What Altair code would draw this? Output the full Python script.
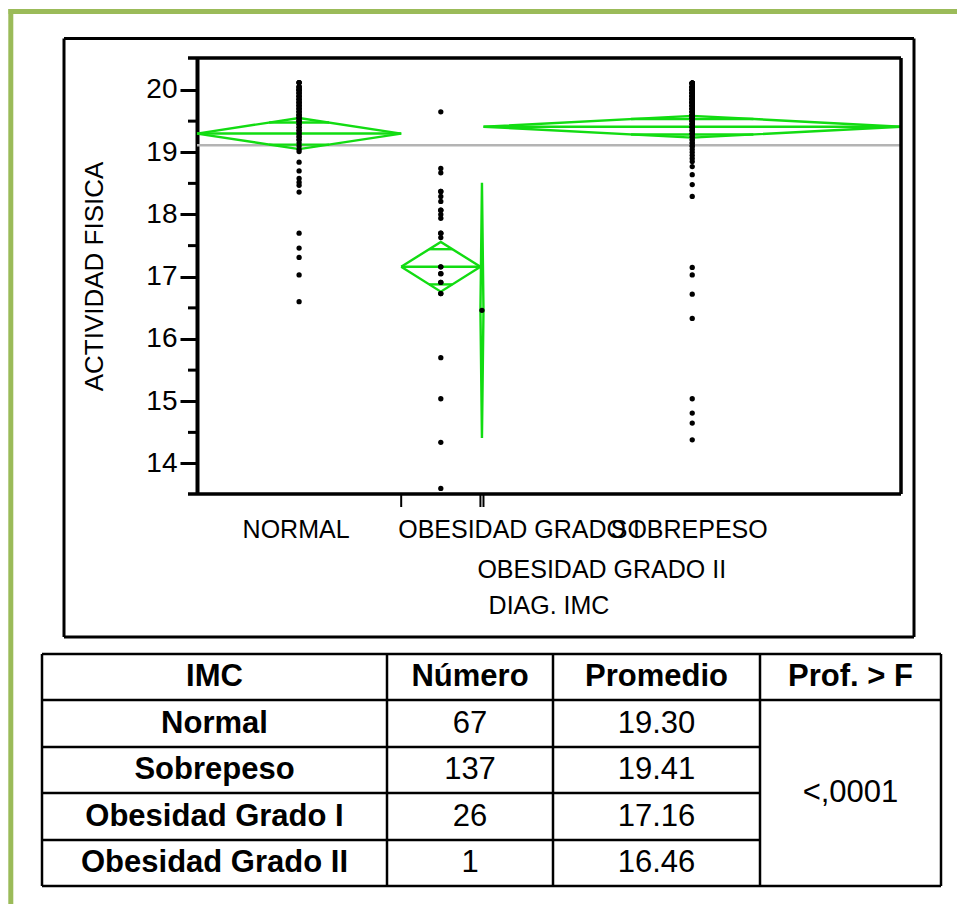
import altair as alt
import numpy as np
import pandas as pd

# ---------------------------------------------------------------- data
# Summary table by IMC group
table_header = ["IMC", "Número", "Promedio", "Prof. > F"]
imc_table = ["Normal", "Sobrepeso", "Obesidad Grado I", "Obesidad Grado II"]
numero = [67, 137, 26, 1]
promedio = [19.30, 19.41, 17.16, 16.46]
prob_f = "<,0001"

# Same groups as named on the x axis, with the 95% half-width of each mean
diag_imc = ["NORMAL", "SOBREPESO", "OBESIDAD GRADO I", "OBESIDAD GRADO II"]
ic95_half = [0.25, 0.175, 0.40, 2.05]
axis_order = ["NORMAL", "OBESIDAD GRADO I", "OBESIDAD GRADO II", "SOBREPESO"]

# y axis
y_major = [14, 15, 16, 17, 18, 19, 20]
y_minor = [14.5, 15.5, 16.5, 17.5, 18.5, 19.5]
y_range = [13.51, 20.514]

# Individual scores (ACTIVIDAD FISICA): a dense upper band given as value/repeats,
# then the scattered lower values
normal_band = [20.12, 20.05, 20.00, 19.95, 19.90, 19.85, 19.80, 19.75, 19.70, 19.65,
               19.60, 19.55, 19.50, 19.45, 19.40, 19.35, 19.30, 19.25, 19.20, 19.15,
               19.10, 19.05, 19.01]
normal_band_reps = [3, 3, 4, 3, 3, 3, 3, 3, 3, 3, 3, 3, 3, 2, 2, 2, 2, 2, 2, 1, 1, 1, 1]
normal_tail = [18.84, 18.70, 18.58, 18.52, 18.47, 18.36, 17.70, 17.46, 17.31, 17.03, 16.60]

obes1_scores = [19.65, 18.74, 18.67, 18.37, 18.37, 18.29, 18.21, 18.07, 18.07, 18.00,
                17.94, 17.70, 17.70, 17.63, 17.16, 17.16, 17.05, 17.05, 16.91, 16.91,
                16.73, 16.73, 15.70, 15.04, 14.34, 13.60]

obes2_scores = [16.46]

sobre_band = [20.11, 20.05, 20.00, 19.95, 19.90, 19.85, 19.80, 19.75, 19.70, 19.65,
              19.60, 19.55, 19.50, 19.45, 19.40, 19.35, 19.30, 19.25, 19.20, 19.15,
              19.10, 19.05, 19.00, 18.95, 18.90, 18.85, 18.77]
sobre_band_reps = [8, 9, 9, 9, 9, 9, 8, 8, 7, 6, 6, 5, 5, 4, 4, 3, 3, 2, 2, 2, 2,
                   1, 1, 1, 1, 1, 1]
sobre_tail = [18.64, 18.48, 18.29, 17.15, 17.03, 16.72, 16.33, 15.04, 14.81, 14.65, 14.38]

# ---------------------------------------------------------------- layout
FONT = "Liberation Sans"
GREEN = "#12DC12"
FRAME_GREEN = "#9BBB59"
W, H = 704, 436          # plot area
OX, OY = 197, 58         # plot area origin on the page


def px(x):
    return x - OX


def py(y):
    return y - OY


# ---------------------------------------------------------------- derived tables
def expand(vals, reps):
    return [v for v, r in zip(vals, reps) for _ in range(r)]


scores = {
    "NORMAL": expand(normal_band, normal_band_reps) + normal_tail,
    "OBESIDAD GRADO I": obes1_scores,
    "OBESIDAD GRADO II": obes2_scores,
    "SOBREPESO": expand(sobre_band, sobre_band_reps) + sobre_tail,
}

grp = (pd.DataFrame({"diag": diag_imc, "n": numero, "avg": promedio, "ic": ic95_half})
       .set_index("diag").loc[axis_order].reset_index())
grp["end"] = grp["n"].cumsum()
grp["start"] = grp["end"] - grp["n"]
grp["mid"] = (grp["start"] + grp["end"]) / 2
total = int(grp["n"].sum())
grand_mean = float((grp["n"] * grp["avg"]).sum() / total)

pts = pd.DataFrame([{"diag": r.diag, "pos": r.mid, "value": v}
                    for r in grp.itertuples() for v in scores[r.diag]])

# means diamonds: outline, mean line and the two overlap marks
K = 1 - 1 / np.sqrt(2)
rows, seg = [], 0
for r in grp.itertuples():
    half = (r.end - r.start) / 2
    d = r.ic / np.sqrt(2)
    shapes = [
        [(r.start, r.avg), (r.mid, r.avg + r.ic), (r.end, r.avg),
         (r.mid, r.avg - r.ic), (r.start, r.avg)],
        [(r.start, r.avg), (r.end, r.avg)],
        [(r.mid - K * half, r.avg + d), (r.mid + K * half, r.avg + d)],
        [(r.mid - K * half, r.avg - d), (r.mid + K * half, r.avg - d)],
    ]
    for s in shapes:
        for i, (x, y) in enumerate(s):
            rows.append({"seg": seg, "ord": i, "pos": float(x), "value": float(y)})
        seg += 1
diamonds = pd.DataFrame(rows)

# ---------------------------------------------------------------- encodings
X = alt.X("pos:Q", scale=alt.Scale(domain=[0, total], nice=False, zero=False), axis=None)
Y = alt.Y(
    "value:Q",
    scale=alt.Scale(domain=y_range, nice=False, zero=False),
    axis=alt.Axis(
        values=y_major, grid=False, domainColor="black", domainWidth=4,
        tickColor="black", tickWidth=3, tickSize=17, labelPadding=3,
        labelFont=FONT, labelFontSize=28, labelColor="black",
        title="ACTIVIDAD FISICA", titleFont=FONT, titleFontSize=26,
        titleFontWeight="normal", titleColor="black", titlePadding=38,
    ),
)

one = pd.DataFrame({"k": [0]})


def hline(y, x1, x2, w, color="black"):
    return alt.Chart(one).mark_rule(color=color, strokeWidth=w).encode(
        x=alt.value(px(x1)), x2=alt.value(px(x2)), y=alt.value(py(y)))


def vline(x, y1, y2, w, color="black"):
    return alt.Chart(one).mark_rule(color=color, strokeWidth=w).encode(
        x=alt.value(px(x)), y=alt.value(py(y1)), y2=alt.value(py(y2)))


def text(s, x, y, size, weight="normal", align="center"):
    return alt.Chart(one).mark_text(
        text=s, font=FONT, fontSize=size, fontWeight=weight, align=align,
        baseline="middle", color="black").encode(x=alt.value(px(x)), y=alt.value(py(y)))


layers = []

# grand mean
gm = pd.DataFrame({"pos": [0], "pos2": [total], "value": [grand_mean]})
layers.append(alt.Chart(gm).mark_rule(color="#B4B4B4", strokeWidth=2.5)
              .encode(x=X, x2="pos2:Q", y=Y))

# diamonds
layers.append(alt.Chart(diamonds).mark_line(color=GREEN, strokeWidth=2.4)
              .encode(x=X, y=Y, detail="seg:N", order="ord:Q"))

# individual scores
layers.append(alt.Chart(pts).mark_circle(size=28, color="black", opacity=1)
              .encode(x=X, y=Y))

# minor y ticks
layers.append(alt.Chart(pd.DataFrame({"value": y_minor}))
              .mark_rule(color="black", strokeWidth=3)
              .encode(y=Y, x=alt.value(-9), x2=alt.value(0)))

# group boundary ticks under the x axis
bounds = pd.DataFrame({"pos": grp["end"].iloc[:-1].astype(float)})
layers.append(alt.Chart(bounds).mark_rule(color="black", strokeWidth=2)
              .encode(x=X, y=alt.value(H), y2=alt.value(H + 13)))

# x axis group labels (long names start at their group's left edge;
# the narrowest group drops to a second row)
LEFT_ALIGNED = {"OBESIDAD GRADO I", "OBESIDAD GRADO II"}
SECOND_ROW = {"OBESIDAD GRADO II"}
lab = grp[["diag", "start", "mid"]].copy()
lab["pos"] = [r.start if r.diag in LEFT_ALIGNED else r.mid for r in lab.itertuples()]
for align, row_y, sel in [
    ("center", 530, lambda d: d not in LEFT_ALIGNED and d not in SECOND_ROW),
    ("left", 530, lambda d: d in LEFT_ALIGNED and d not in SECOND_ROW),
    ("left", 570, lambda d: d in SECOND_ROW),
]:
    sub = lab[lab["diag"].map(sel)]
    layers.append(alt.Chart(sub).mark_text(
        font=FONT, fontSize=25, align=align, baseline="middle", color="black", dx=-3)
        .encode(x=X, y=alt.value(py(row_y)), text="diag:N"))
layers.append(text("DIAG. IMC", OX + W / 2, 606, 25))

# plot frame
layers += [hline(58, 188, 901, 3.5), hline(494, 188, 901, 3.5), vline(901, 58, 494, 3.5)]

# outer frame around the plot
layers += [hline(38.5, 64, 914, 3), hline(637, 64, 914, 3),
           vline(64, 38.5, 637, 3), vline(914, 38.5, 637, 3)]

# page border
layers += [hline(11.5, 8.5, 957, 5, FRAME_GREEN), vline(10.8, 9, 904, 5, FRAME_GREEN)]

# summary table
col_x = [42, 387, 553, 760, 941]
row_y = [654, 700, 747, 793, 840, 886]
for x in col_x:
    layers.append(vline(x, row_y[0], row_y[-1], 2.5))
for i, y in enumerate(row_y):
    right = col_x[-1] if i in (0, 1, len(row_y) - 1) else col_x[3]
    layers.append(hline(y, col_x[0], right, 2.5))

cx = [(a + b) / 2 for a, b in zip(col_x[:-1], col_x[1:])]
cy = [(a + b) / 2 for a, b in zip(row_y[:-1], row_y[1:])]
TS = 31
for j, h in enumerate(table_header):
    layers.append(text(h, cx[j], cy[0], TS, "bold"))
for i in range(len(imc_table)):
    layers.append(text(imc_table[i], cx[0], cy[i + 1], TS, "bold"))
    layers.append(text(str(numero[i]), cx[1], cy[i + 1], TS))
    layers.append(text(f"{promedio[i]:.2f}", cx[2], cy[i + 1], TS))
layers.append(text(prob_f, cx[3], (row_y[1] + row_y[-1]) / 2, TS))

chart = (
    alt.layer(*layers)
    .properties(
        width=W, height=H, background="white",
        autosize=alt.AutoSizeParams(type="none"),
        padding={"left": OX, "top": OY, "right": 957 - OX - W, "bottom": 904 - OY - H},
    )
    .configure_view(stroke="transparent")
)

chart.save("out.html", embed_options={"renderer": "svg", "actions": False})
